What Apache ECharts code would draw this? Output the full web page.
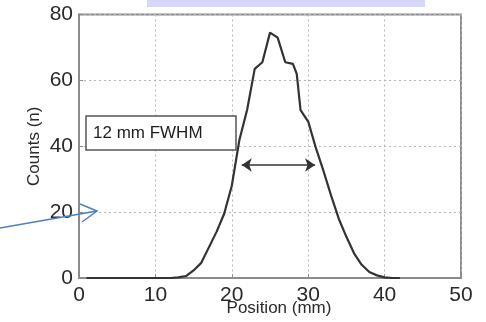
<!DOCTYPE html>
<html>
<head>
<meta charset="utf-8">
<script src="https://cdn.jsdelivr.net/npm/echarts@6/dist/echarts.min.js"></script>
<style>
  html, body { margin: 0; padding: 0; background: #fff; }
  #chart { width: 486px; height: 322px; }
</style>
</head>
<body>
<div id="chart"></div>
<script>
// Beam profile: counts per position bin
const positions = [1, 12, 13, 14, 15, 16, 17, 18, 19, 20, 21, 22, 23, 24, 25, 26, 27, 28, 28.5, 29, 30, 31, 32, 33, 34, 35, 36, 37, 38, 39, 40, 41, 42];
const counts    = [0, 0, 0.2, 0.6, 2.3, 4.6, 9.3, 14, 19.5, 28, 42, 51, 63.5, 65.5, 74.5, 73, 65.5, 65, 62, 51, 47.5, 39.5, 32.5, 25, 18, 12.5, 7.5, 4, 1.8, 0.8, 0.2, 0, 0];

// Axis ranges and tick steps
const xTicks = [0, 10, 20, 30, 40, 50];
const yTicks = [0, 20, 40, 60, 80];

// FWHM marker endpoints (position, height)
const fwhmStart = [21.3, 34.3];
const fwhmEnd = [30.9, 34.3];
const fwhmLabel = '12 mm FWHM';

const FONT = '"Liberation Sans", Arial, Helvetica, sans-serif';
const chart = echarts.init(document.getElementById('chart'), null, { renderer: 'canvas' });

const dotted = { show: true, lineStyle: { color: '#b5b5b5', type: [2, 3], width: 1 } };

chart.setOption({
  animation: false,
  backgroundColor: '#fff',
  grid: {
    left: 79, right: 25, top: 14.5, bottom: 42.7,
    show: true, borderColor: '#8c8c8c', borderWidth: 2, backgroundColor: '#fff'
  },
  xAxis: {
    type: 'value',
    min: xTicks[0], max: xTicks[xTicks.length - 1], interval: xTicks[1] - xTicks[0],
    name: 'Position (mm)', nameLocation: 'middle', nameGap: 22, nameMoveOverlap: false,
    nameTextStyle: { fontFamily: FONT, fontSize: 17, color: '#2a2a2a', padding: [0, 0, 0, 18] },
    axisLine: { show: true, lineStyle: { color: '#8c8c8c', width: 2 } },
    axisTick: { show: true, inside: true, length: 4, lineStyle: { color: '#8c8c8c' } },
    axisLabel: { fontFamily: FONT, fontSize: 21, color: '#2a2a2a', margin: 7 },
    splitLine: dotted
  },
  yAxis: {
    type: 'value',
    min: yTicks[0], max: yTicks[yTicks.length - 1], interval: yTicks[1] - yTicks[0],
    name: 'Counts (n)', nameLocation: 'middle', nameGap: 36, nameRotate: 90, nameMoveOverlap: false,
    nameTextStyle: { fontFamily: FONT, fontSize: 17, color: '#2a2a2a' },
    axisLine: { show: true, lineStyle: { color: '#8c8c8c', width: 2 } },
    axisTick: { show: true, inside: true, length: 4, lineStyle: { color: '#8c8c8c' } },
    axisLabel: { fontFamily: FONT, fontSize: 21, color: '#2a2a2a', margin: 6 },
    splitLine: dotted
  },
  series: [{
    type: 'line',
    data: positions.map((p, i) => [p, counts[i]]),
    showSymbol: false,
    lineStyle: { color: '#333', width: 2.2 },
    markLine: {
      silent: true,
      symbol: ['arrow', 'arrow'],
      symbolSize: [10, 10],
      label: { show: false },
      lineStyle: { color: '#333', width: 1.5, type: 'solid' },
      data: [[{ coord: fwhmStart }, { coord: fwhmEnd }]]
    }
  }],
  graphic: [
    // lavender band along the top edge
    { type: 'rect', shape: { x: 147, y: 0, width: 278, height: 7 }, style: { fill: '#d6d6f8' }, z: 10 },
    // FWHM caption box
    { type: 'rect', shape: { x: 86, y: 116, width: 150, height: 34 },
      style: { fill: '#fff', stroke: '#555', lineWidth: 1.5 }, z: 10 },
    { type: 'text', x: 93, y: 133, z: 11,
      style: { text: fwhmLabel, font: '17px ' + FONT, fill: '#1e1e1e', verticalAlign: 'middle' } },
    // blue pointer arrow at the left
    { type: 'polyline', shape: { points: [[0, 228], [97, 211]] },
      style: { stroke: '#4a7fc4', lineWidth: 1.5, fill: null }, z: 12 },
    { type: 'polyline', shape: { points: [[80, 204], [97, 211], [82, 222]] },
      style: { stroke: '#4a7fc4', lineWidth: 1.5, fill: null }, z: 12 }
  ]
});
</script>
</body>
</html>
